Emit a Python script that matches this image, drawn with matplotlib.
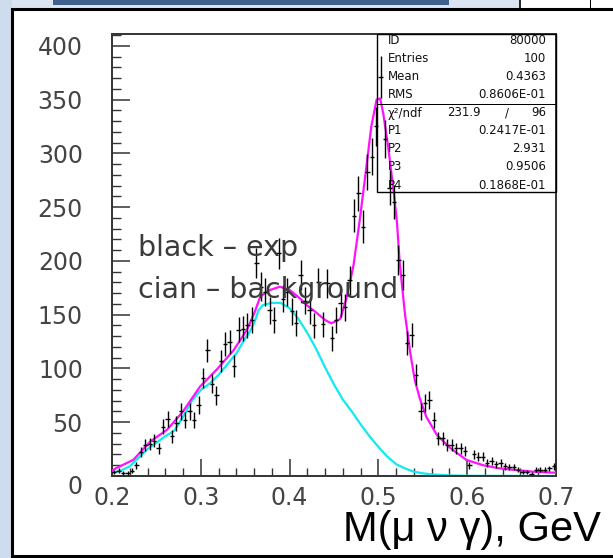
import numpy as np
import matplotlib
matplotlib.use("Agg")
import matplotlib.pyplot as plt
from matplotlib.patches import Rectangle
from matplotlib.ticker import MultipleLocator
import matplotlib.transforms as mtransforms

W, H = 613, 558

# histogram: 100 bins from 0.2 to 0.7
bin_lo, bin_w = 0.2, 0.005
counts = [4, 5, 3, 3, 5, 10, 22, 29, 30, 33,
          26, 46, 53, 37, 49, 60, 52, 60, 52, 66,
          91, 117, 86, 75, 107, 123, 125, 102, 136, 137,
          140, 145, 198, 176, 171, 154, 145, 207, 165, 171,
          153, 142, 187, 163, 154, 140, 180, 141, 179, 128,
          145, 161, 157, 182, 242, 263, 232, 283, 297, 325,
          371, 313, 268, 255, 201, 187, 124, 131, 94, 60,
          68, 71, 52, 35, 35, 29, 29, 26, 26, 23,
          10, 20, 18, 18, 12, 14, 11, 12, 9, 8,
          8, 6, 4, 4, 2, 6, 6, 6, 7, 9]

# background curve (cyan)
bg_x = [0.200, 0.210, 0.220, 0.230, 0.240, 0.250, 0.260, 0.270, 0.280, 0.290,
        0.300, 0.310, 0.320, 0.330, 0.340, 0.350, 0.355, 0.360, 0.365, 0.370,
        0.380, 0.390, 0.400, 0.410, 0.420, 0.430, 0.440, 0.450, 0.460, 0.470,
        0.480, 0.490, 0.500, 0.510, 0.520, 0.530, 0.540, 0.550, 0.560, 0.580,
        0.600, 0.700]
bg_y = [3, 5, 9, 17, 25, 31, 37, 42, 55, 70,
        80, 86, 94, 104, 114, 128, 134, 142, 154, 159,
        161, 161, 156, 146, 133, 118, 101, 85, 71, 60,
        48, 37, 27, 18, 11, 7, 4, 2.5, 1.5, 0.5,
        0.2, 0]

# total fit (magenta)
fit_x = [0.200, 0.204, 0.224, 0.243, 0.262, 0.280, 0.299, 0.318, 0.337, 0.352,
         0.361, 0.367, 0.378, 0.389, 0.400, 0.412, 0.419, 0.430, 0.440, 0.447,
         0.457, 0.464, 0.472, 0.479, 0.487, 0.492, 0.498, 0.502, 0.5055, 0.511,
         0.517, 0.521, 0.524, 0.530, 0.536, 0.541, 0.547, 0.554, 0.566, 0.581,
         0.599, 0.618, 0.637, 0.656, 0.674, 0.700]
fit_y = [5, 7, 15, 32, 43, 60, 83, 99, 117, 136,
         153, 167, 173, 176, 173, 165, 159, 152, 145, 142,
         146, 165, 196, 238, 291, 325, 350, 351, 337, 306,
         266, 235, 198, 150, 114, 89, 71, 55, 38, 26,
         15, 10, 7, 5.5, 4, 3]

stat_names = ["ID", "Entries", "Mean", "RMS"]
stat_vals = ["80000", "100", "0.4363", "0.8606E-01"]
par_names = ["P1", "P2", "P3", "P4"]
par_vals = ["0.2417E-01", "2.931", "0.9506", "0.1868E-01"]

x = bin_lo + bin_w / 2 + bin_w * np.arange(len(counts))
y = np.array(counts, dtype=float)


def px_rect(x0, y0, x1, y1, **kw):
    return Rectangle((x0 / W, 1 - y1 / H), (x1 - x0) / W, (y1 - y0) / H,
                     transform=fig.transFigure, **kw)


fig = plt.figure(figsize=(W / 100, H / 100), dpi=100)
fig.patch.set_facecolor("#dbe5f2")

# slide / window decoration
fig.add_artist(px_rect(0, 0, 12, H, facecolor="#cfdcee", edgecolor="none", zorder=-3))
fig.add_artist(px_rect(53, -6, 449, 5, facecolor="#3f5f8f", edgecolor="none", zorder=-3))
fig.add_artist(px_rect(520, -2, 615, 9, facecolor="white", edgecolor="black", lw=1.2, zorder=-3))
fig.add_artist(px_rect(590, -2, 591, 9, facecolor="black", edgecolor="none", zorder=-3))
fig.add_artist(px_rect(12, 9, 620, 556, facecolor="white", edgecolor="black", lw=2.2, zorder=-2))

ax = fig.add_axes([112 / W, 1 - 476 / H, (556 - 112) / W, (476 - 34) / H])
ax.patch.set_visible(False)

ax.plot(bg_x, bg_y, color="#10eaf0", lw=1.6, zorder=2)
ax.plot(fit_x, fit_y, color="#ff10ff", lw=1.6, zorder=3)
ax.errorbar(x, y, yerr=np.sqrt(y), xerr=bin_w / 2, fmt="none",
            ecolor="black", elinewidth=1.0, zorder=4)

ax.set_xlim(0.2, 0.7)
ax.set_ylim(0, 411)

ax.xaxis.set_major_locator(MultipleLocator(0.1))
ax.xaxis.set_minor_locator(MultipleLocator(0.02))
ax.yaxis.set_major_locator(MultipleLocator(50))
ax.yaxis.set_minor_locator(MultipleLocator(10))
ax.tick_params(axis="x", which="major", direction="in", length=12, width=1.1,
               color="#333333", labelsize=17, labelcolor="#444444", pad=7)
ax.tick_params(axis="x", which="minor", direction="in", length=6, width=1.0, color="#333333")
ax.tick_params(axis="y", which="major", direction="in", length=13, width=1.1,
               color="#333333", labelsize=17, labelcolor="#444444", pad=21)
ax.tick_params(axis="y", which="minor", direction="in", length=6.5, width=1.0, color="#333333")
ax.set_xticks([0.2, 0.3, 0.4, 0.5, 0.6, 0.7])
ax.set_xticklabels(["0.2", "0.3", "0.4", "0.5", "0.6", "0.7"])
for sp in ax.spines.values():
    sp.set_color("#333333")
    sp.set_linewidth(1.4)

# ROOT drops the "0" a bit lower
fig.canvas.draw()
for lab in ax.get_yticklabels():
    if lab.get_text() == "0":
        lab.set_transform(lab.get_transform() +
                          mtransforms.ScaledTranslation(0, -6 / 72, fig.dpi_scale_trans))

# stats box
fig.add_artist(px_rect(377, 34, 556, 192, facecolor="none", edgecolor="black", lw=1.0, zorder=1))
fig.add_artist(px_rect(377, 104, 556, 104.5, facecolor="black", edgecolor="none", zorder=1))
rows = [40, 58, 77, 95]
for name, val, r in zip(stat_names, stat_vals, rows):
    fig.text(388 / W, 1 - r / H, name, fontsize=8.5, va="center", ha="left", color="#111111")
    fig.text(546 / W, 1 - r / H, val, fontsize=8.5, va="center", ha="right", color="#111111")
fig.text(388 / W, 1 - 113 / H, "χ²/ndf", fontsize=8.5, va="center", ha="left", color="#111111")
fig.text(481 / W, 1 - 113 / H, "231.9", fontsize=8.5, va="center", ha="right", color="#111111")
fig.text(507 / W, 1 - 113 / H, "/", fontsize=8.5, va="center", ha="center", color="#111111")
fig.text(546 / W, 1 - 113 / H, "96", fontsize=8.5, va="center", ha="right", color="#111111")
for name, val, r in zip(par_names, par_vals, [131, 149, 167, 185]):
    fig.text(388 / W, 1 - r / H, name, fontsize=8.5, va="center", ha="left", color="#111111")
    fig.text(546 / W, 1 - r / H, val, fontsize=8.5, va="center", ha="right", color="#111111")

# annotations
fig.text(138 / W, 1 - 248 / H, "black – exp", fontsize=20.5, va="center", ha="left", color="#3a3a3a")
fig.text(138 / W, 1 - 290 / H, "cian – background", fontsize=20.5, va="center", ha="left", color="#3a3a3a")

fig.text(601 / W, 1 - 530 / H, "M(μ ν γ), GeV", fontsize=30, va="center", ha="right",
         family=["Liberation Sans", "DejaVu Sans"], color="black")

fig.savefig("out.png", dpi=100, facecolor=fig.get_facecolor())
